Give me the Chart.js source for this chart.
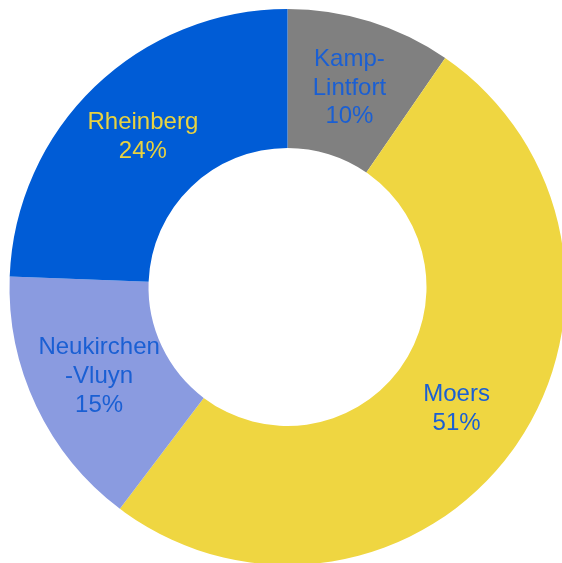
<!DOCTYPE html>
<html>
<head>
<meta charset="utf-8">
<script src="https://cdn.jsdelivr.net/npm/chart.js@4"></script>
<style>
  html, body { margin: 0; padding: 0; background: #fff; overflow: hidden; }
  #wrap { position: absolute; left: 0; top: 0; width: 575px; height: 574px; }
</style>
</head>
<body>
<div id="wrap"><canvas id="donut"></canvas></div>
<script>
// Anteile nach Kommune
const labels = [["Kamp-", "Lintfort"], "Moers", ["Neukirchen", "-Vluyn"], "Rheinberg"];
const values = [9.6, 50.7, 15.3, 24.4];
const colors = ["#808080", "#EFD641", "#8A9BE0", "#005CD6"];
const textColors = ["#1A5FD3", "#1A5FD3", "#1A5FD3", "#E9D33F"];

// Beschriftung in der Mitte jedes Segments
const sliceLabels = {
  id: 'sliceLabels',
  afterDatasetsDraw(chart) {
    const c = chart.ctx;
    const meta = chart.getDatasetMeta(0);
    const data = chart.data.datasets[0].data;
    let sum = 0;
    data.forEach(v => { sum += v; });
    c.save();
    c.font = '24px "Liberation Sans", Arial, sans-serif';
    c.textAlign = 'center';
    c.textBaseline = 'middle';
    meta.data.forEach((arc, i) => {
      const p = arc.getCenterPoint();
      let lines = chart.data.labels[i];
      if (!Array.isArray(lines)) lines = [lines];
      lines = lines.concat([Math.round(data[i] * 100 / sum) + '%']);
      const lh = 28.8;
      const top = p.y - (lines.length - 1) * lh / 2;
      c.fillStyle = textColors[i];
      lines.forEach((t, j) => c.fillText(t, p.x, top + j * lh));
    });
    c.restore();
  }
};

var ctx = document.getElementById("donut").getContext('2d');
var myChart = new Chart(ctx, {
  type: 'doughnut',
  data: {
    labels: labels,
    datasets: [{
      backgroundColor: colors,
      borderWidth: 0,
      hoverOffset: 0,
      data: values
    }]
  },
  options: {
    responsive: true,
    maintainAspectRatio: false,
    animation: false,
    cutout: '50%',
    layout: { padding: { left: 9.5, right: 9.5, top: 9, bottom: 9 } },
    plugins: {
      legend: { display: false },
      tooltip: { enabled: false }
    }
  },
  plugins: [sliceLabels]
});
</script>
</body>
</html>
